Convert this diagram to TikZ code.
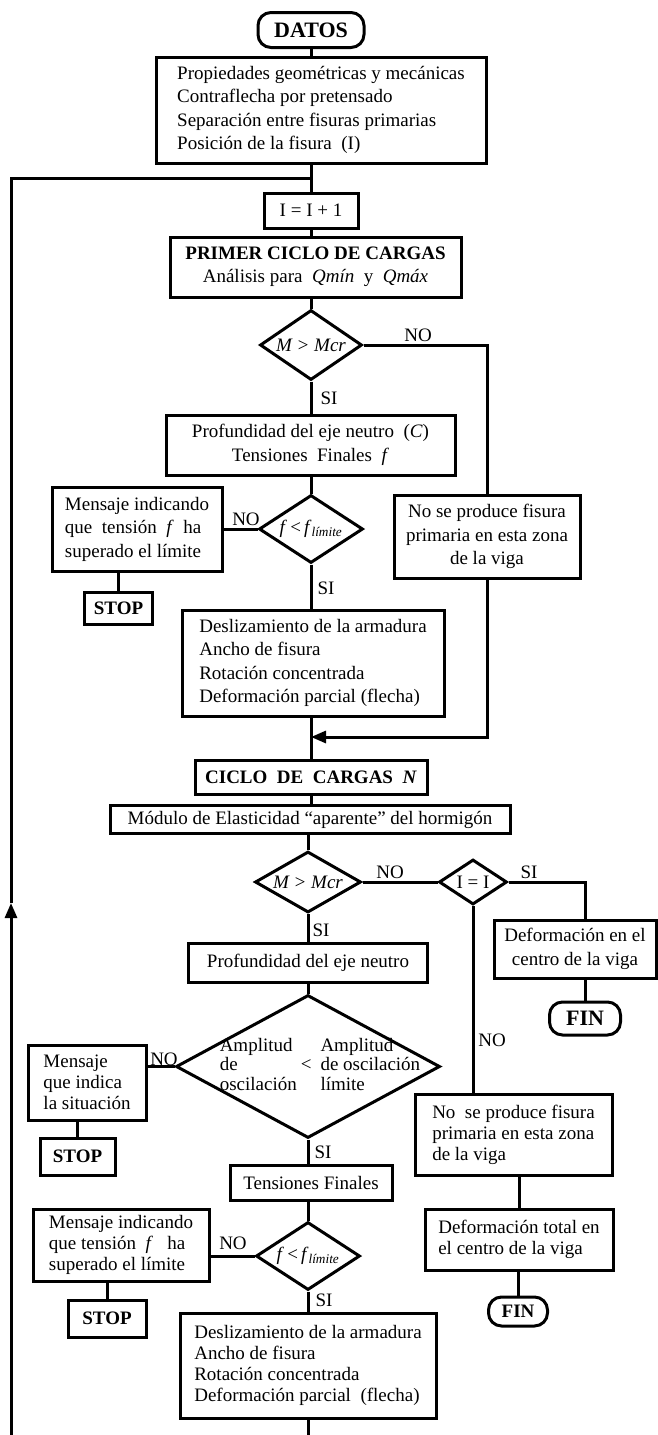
\documentclass[tikz,border=0pt]{standalone}
\usepackage{fontspec}
\setmainfont{Liberation Serif}
\usepackage{tikz}
\usetikzlibrary{shapes.geometric, arrows.meta}
\newcommand{\flowfont}{\fontsize{19}{23.5}\selectfont}
\newcommand{\lowfont}{\fontsize{19}{21}\selectfont}
\newcommand{\bigfont}{\fontsize{22}{24}\selectfont}

\tikzset{
  box/.style={draw, line width=3pt, inner sep=0pt, align=center},
  leftbox/.style={box, align=left},
  decision/.style={draw, diamond, line width=3pt, inner sep=0pt},
  terminal/.style={draw, rounded corners=13pt, line width=3pt, inner sep=0pt, font=\flowfont\bfseries},
  flow/.style={line width=3pt},
  tip/.style={flow, -{Triangle[length=15pt, width=12pt]}},
}

\begin{document}
\begin{tikzpicture}[x=1pt, y=-1pt, font=\flowfont]
  \useasboundingbox (0,0) rectangle (657,1435);

  % first load cycle
  \node[terminal, font=\bigfont\bfseries, minimum width=106pt, minimum height=35pt] (datos) at (311,30) {DATOS};
  \node[leftbox, minimum width=330pt, minimum height=106pt] (data) at (321,110)
    {Propiedades geométricas y mecánicas\\Contraflecha por pretensado\\Separación entre fisuras primarias\\Posición de la fisura~~(I)};
  \node[box, minimum width=94pt, minimum height=35pt] (inc) at (311,210.5) {I = I + 1};
  \node[box, minimum width=291pt, minimum height=60pt] (primer) at (315.5,267)
    {\textbf{PRIMER CICLO DE CARGAS}\\Análisis para~ \textit{Qmín}~ y~ \textit{Qmáx}};
  \node[decision, aspect=1.46, minimum width=102pt, minimum height=70pt] (mcr1) at (311,345) {\textit{M > Mcr}};
  \node[box, minimum width=289pt, minimum height=60pt] (prof1) at (310.5,445)
    {Profundidad del eje neutro~ (\textit{C})\\Tensiones~ Finales~ \textit{f}};
  \node[decision, aspect=1.53, minimum width=104pt, minimum height=68pt] (lim1) at (311,529)
    {\textit{f}\,<\,\textit{f}\textsubscript{\textit{límite}}};
  \node[leftbox, minimum width=170pt, minimum height=84pt] (msg1) at (137,529)
    {Mensaje indicando\\que~ tensión~ \textit{f}~ ha\\superado el límite};
  \node[box, minimum width=68pt, minimum height=32pt, font=\flowfont\bfseries] (stop1) at (118.5,608) {STOP};
  \node[box, minimum width=186pt, minimum height=83pt] (nofis1) at (487,536.5)
    {No se produce fisura\\primaria en esta zona\\de la viga};
  \node[leftbox, minimum width=262pt, minimum height=106pt] (desl1) at (313,663)
    {Deslizamiento de la armadura\\Ancho de fisura\\Rotación concentrada\\Deformación parcial (flecha)};
  \coordinate (junc) at (311,737);

  % load cycle N
  \node[box, minimum width=232pt, minimum height=34pt] (cicloN) at (311,777) {\textbf{CICLO~ DE~ CARGAS~ \textit{N}}};
  \node[box, minimum width=400pt, minimum height=28pt] (modulo) at (310,819.5) {Módulo de Elasticidad “aparente” del hormigón};
  \node[decision, aspect=1.74, minimum width=106pt, minimum height=61pt] (mcr2) at (308,882) {\textit{M > Mcr}};
  \node[decision, aspect=1.51, minimum width=68pt, minimum height=45pt] (ii) at (473,882) {I = I};
  \node[box, minimum width=162pt, minimum height=58pt] (defc) at (575,949) {Deformación en el\\centro de la viga};
  \node[terminal, font=\bigfont\bfseries, minimum width=71pt, minimum height=33pt] (fin1) at (585,1018.5) {FIN};
  \node[box, minimum width=239pt, minimum height=39pt] (prof2) at (308,962.5) {Profundidad del eje neutro};
  \node[decision, minimum width=264pt, minimum height=143pt] (amp) at (308,1066.5) {};
  \node (amptext) at (320,1066)
    {\begin{tabular}{@{}l@{\hspace{4pt}}c@{\hspace{9pt}}l@{}}
       Amplitud & & Amplitud\\[-4pt]
       de & < & de oscilación\\[-4pt]
       oscilación & & límite
     \end{tabular}};
  \node[leftbox, font=\lowfont, minimum width=118pt, minimum height=75pt] (msg2) at (87,1082.5)
    {Mensaje\\que indica\\la situación};
  \node[box, minimum width=75pt, minimum height=37pt, font=\flowfont\bfseries] (stop2) at (77.5,1156.5) {STOP};
  \node[leftbox, font=\lowfont, minimum width=197pt, minimum height=81pt] (nofis2) at (513.5,1134.5)
    {No~ se produce fisura\\primaria en esta zona\\de la viga};
  \node[box, minimum width=162pt, minimum height=35pt] (tens) at (311,1182.5) {Tensiones Finales};
  \node[leftbox, font=\lowfont, minimum width=188pt, minimum height=61pt] (deft) at (519,1239.5)
    {Deformación total en\\el centro de la viga};
  \node[terminal, minimum width=59pt, minimum height=29pt] (fin2) at (518,1311.5) {FIN};
  \node[decision, aspect=1.53, minimum width=104pt, minimum height=68pt] (lim2) at (308,1256)
    {\textit{f}\,<\,\textit{f}\textsubscript{\textit{límite}}};
  \node[leftbox, font=\lowfont, minimum width=176pt, minimum height=72pt] (msg3) at (121,1245)
    {Mensaje indicando\\que tensión~ \textit{f}~~ ha\\superado el límite};
  \node[box, minimum width=78pt, minimum height=37pt, font=\flowfont\bfseries] (stop3) at (107,1318.5) {STOP};
  \node[leftbox, font=\lowfont, minimum width=256pt, minimum height=105pt] (desl2) at (308,1365.5)
    {Deslizamiento de la armadura\\Ancho de fisura\\Rotación concentrada\\Deformación parcial~ (flecha)};

  % answers
  \node (no1) at (418,335) {NO};
  \node (si1) at (329,398) {SI};
  \node (no2) at (246,519) {NO};
  \node (si2) at (326,588) {SI};
  \node (no3) at (390,872) {NO};
  \node (si3) at (529,872) {SI};
  \node (si4) at (321,930) {SI};
  \node (no4) at (492,1040) {NO};
  \node (no5) at (164,1059) {NO};
  \node (si5) at (323,1152) {SI};
  \node (no6) at (233,1243) {NO};
  \node (si6) at (324,1300) {SI};

  % loop back to next crack
  \coordinate (loopbot) at (11,1435);
  \coordinate (loopmid) at (11,903);
  \coordinate (looptop) at (11,178);
  \coordinate (mainend) at (308,1435);

  % connectors
  \draw[flow] (datos.south) -- (datos.south |- data.north);
  \draw[flow] (inc.north |- data.south) -- (inc.north);
  \draw[tip] (loopbot) -- (loopmid);
  \draw[flow] (loopmid) -- (looptop) -- (looptop -| inc);
  \draw[flow] (inc.south) -- (inc.south |- primer.north);
  \draw[flow] (mcr1.north |- primer.south) -- (mcr1.north);
  \draw[flow] (mcr1.east) -- (mcr1.east -| nofis1.north) -- (nofis1.north);
  \draw[flow] (mcr1.south) -- (mcr1.south |- prof1.north);
  \draw[flow] (lim1.north |- prof1.south) -- (lim1.north);
  \draw[flow] (lim1.west) -- (lim1.west -| msg1.east);
  \draw[flow] (stop1.north |- msg1.south) -- (stop1.north);
  \draw[flow] (lim1.south) -- (lim1.south |- desl1.north);
  \draw[flow] (cicloN.north |- desl1.south) -- (cicloN.north);
  \draw[tip] (nofis1.south) -- (nofis1.south |- junc) -- (junc);
  \draw[flow] (cicloN.south) -- (cicloN.south |- modulo.north);
  \draw[flow] (mcr2.north |- modulo.south) -- (mcr2.north);
  \draw[flow] (mcr2.east) -- (ii.west);
  \draw[flow] (ii.east) -- (ii.east -| fin1.north) -- (fin1.north |- defc.north);
  \draw[flow] (fin1.north |- defc.south) -- (fin1.north);
  \draw[flow] (ii.south) -- (ii.south |- nofis2.north);
  \draw[flow] (deft.north |- nofis2.south) -- (deft.north);
  \draw[flow] (fin2.north |- deft.south) -- (fin2.north);
  \draw[flow] (mcr2.south) -- (mcr2.south |- prof2.north);
  \draw[flow] (amp.north |- prof2.south) -- (amp.north);
  \draw[flow] (amp.west) -- (amp.west -| msg2.east);
  \draw[flow] (stop2.north |- msg2.south) -- (stop2.north);
  \draw[flow] (amp.south) -- (amp.south |- tens.north);
  \draw[flow] (lim2.north |- tens.south) -- (lim2.north);
  \draw[flow] (lim2.west) -- (lim2.west -| msg3.east);
  \draw[flow] (stop3.north |- msg3.south) -- (stop3.north);
  \draw[flow] (lim2.south) -- (lim2.south |- desl2.north);
  \draw[flow] (desl2.south) -- (mainend);
\end{tikzpicture}
\end{document}
